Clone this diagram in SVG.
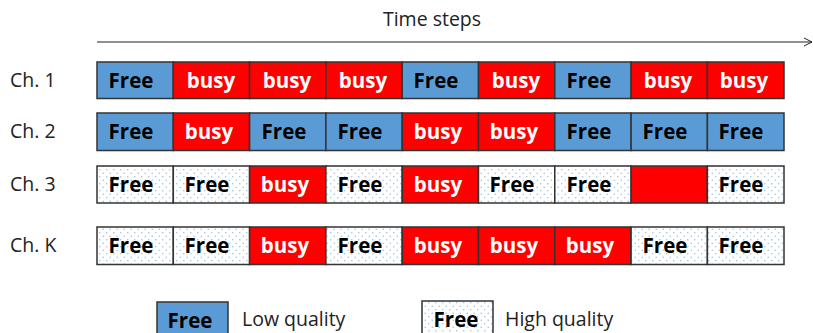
<svg xmlns="http://www.w3.org/2000/svg" width="813" height="333" viewBox="0 0 813 333">
  <style>
    .lbl { font-family: "Open Sans", "Liberation Sans", sans-serif; font-size: 19.5px; fill: #222; }
    .cell { stroke: #333; stroke-width: 1.5; }
    .lo { fill: #5B9BD5; }
    .hi { fill: url(#dots); }
    .busy { fill: #FF0000; }
    .t { font-family: "Open Sans", "Liberation Sans", sans-serif; font-size: 20.5px; font-weight: bold; text-anchor: middle; }
    .tf { fill: #000; }
    .tb { fill: #fff; }
  </style>
  <defs>
    <pattern id="dots" width="7" height="7" patternUnits="userSpaceOnUse">
      <rect width="7" height="7" fill="#fff"/>
      <circle cx="1.75" cy="1.75" r="0.8" fill="#9DC3E6"/>
      <circle cx="5.25" cy="5.25" r="0.8" fill="#9DC3E6"/>
    </pattern>
    <marker id="open" markerWidth="10" markerHeight="10" refX="9" refY="5" orient="auto" markerUnits="userSpaceOnUse">
      <path d="M1,1 L9,5 L1,9" fill="none" stroke="#222" stroke-width="1"/>
    </marker>
  </defs>

  <text class="lbl" x="432" y="26" text-anchor="middle">Time steps</text>

  <g id="connectors">
    <line x1="97" y1="42" x2="812" y2="42" stroke="#222" stroke-width="1.2" marker-end="url(#open)"/>
  </g>

  <!-- Channel 1 -->
  <g id="ch1">
    <text class="lbl" x="10" y="87">Ch. 1</text>
    <rect class="cell lo" x="97" y="62" width="76.3" height="36.5"/>
    <rect class="cell busy" x="173.3" y="62" width="76.3" height="36.5"/>
    <rect class="cell busy" x="249.6" y="62" width="76.3" height="36.5"/>
    <rect class="cell busy" x="325.9" y="62" width="76.3" height="36.5"/>
    <rect class="cell lo" x="402.2" y="62" width="76.3" height="36.5"/>
    <rect class="cell busy" x="478.5" y="62" width="76.3" height="36.5"/>
    <rect class="cell lo" x="554.8" y="62" width="76.3" height="36.5"/>
    <rect class="cell busy" x="631.1" y="62" width="76.3" height="36.5"/>
    <rect class="cell busy" x="707.4" y="62" width="76.6" height="36.5"/>
    <text class="t tf" x="131" y="87.5">Free</text>
    <text class="t tb" x="211" y="87.5">busy</text>
    <text class="t tb" x="287" y="87.5">busy</text>
    <text class="t tb" x="363" y="87.5">busy</text>
    <text class="t tf" x="436" y="87.5">Free</text>
    <text class="t tb" x="516" y="87.5">busy</text>
    <text class="t tf" x="589" y="87.5">Free</text>
    <text class="t tb" x="668" y="87.5">busy</text>
    <text class="t tb" x="744" y="87.5">busy</text>
  </g>

  <!-- Channel 2 -->
  <g id="ch2">
    <text class="lbl" x="10" y="138">Ch. 2</text>
    <rect class="cell lo" x="97" y="113" width="76.3" height="37.5"/>
    <rect class="cell busy" x="173.3" y="113" width="76.3" height="37.5"/>
    <rect class="cell lo" x="249.6" y="113" width="76.3" height="37.5"/>
    <rect class="cell lo" x="325.9" y="113" width="76.3" height="37.5"/>
    <rect class="cell busy" x="402.2" y="113" width="76.3" height="37.5"/>
    <rect class="cell busy" x="478.5" y="113" width="76.3" height="37.5"/>
    <rect class="cell lo" x="554.8" y="113" width="76.3" height="37.5"/>
    <rect class="cell lo" x="631.1" y="113" width="76.3" height="37.5"/>
    <rect class="cell lo" x="707.4" y="113" width="76.6" height="37.5"/>
    <text class="t tf" x="131" y="139">Free</text>
    <text class="t tb" x="209" y="139">busy</text>
    <text class="t tf" x="284" y="139">Free</text>
    <text class="t tf" x="360" y="139">Free</text>
    <text class="t tb" x="438" y="139">busy</text>
    <text class="t tb" x="514" y="139">busy</text>
    <text class="t tf" x="589" y="139">Free</text>
    <text class="t tf" x="665" y="139">Free</text>
    <text class="t tf" x="741" y="139">Free</text>
  </g>

  <!-- Channel 3 -->
  <g id="ch3">
    <text class="lbl" x="10" y="191">Ch. 3</text>
    <rect class="cell hi" x="97" y="166" width="76.3" height="37"/>
    <rect class="cell hi" x="173.3" y="166" width="76.3" height="37"/>
    <rect class="cell busy" x="249.6" y="166" width="76.3" height="37"/>
    <rect class="cell hi" x="325.9" y="166" width="76.3" height="37"/>
    <rect class="cell busy" x="402.2" y="166" width="76.3" height="37"/>
    <rect class="cell hi" x="478.5" y="166" width="76.3" height="37"/>
    <rect class="cell hi" x="554.8" y="166" width="76.3" height="37"/>
    <rect class="cell busy" x="631.1" y="166" width="76.3" height="37"/>
    <rect class="cell hi" x="707.4" y="166" width="76.6" height="37"/>
    <text class="t tf" x="131" y="192">Free</text>
    <text class="t tf" x="207" y="192">Free</text>
    <text class="t tb" x="285" y="192">busy</text>
    <text class="t tf" x="360" y="192">Free</text>
    <text class="t tb" x="438" y="192">busy</text>
    <text class="t tf" x="512" y="192">Free</text>
    <text class="t tf" x="589" y="192">Free</text>
    <text class="t tf" x="741" y="192">Free</text>
  </g>

  <!-- Channel K -->
  <g id="chK">
    <text class="lbl" x="10" y="252">Ch. K</text>
    <rect class="cell hi" x="97" y="227" width="76.3" height="37.5"/>
    <rect class="cell hi" x="173.3" y="227" width="76.3" height="37.5"/>
    <rect class="cell busy" x="249.6" y="227" width="76.3" height="37.5"/>
    <rect class="cell hi" x="325.9" y="227" width="76.3" height="37.5"/>
    <rect class="cell busy" x="402.2" y="227" width="76.3" height="37.5"/>
    <rect class="cell busy" x="478.5" y="227" width="76.3" height="37.5"/>
    <rect class="cell busy" x="554.8" y="227" width="76.3" height="37.5"/>
    <rect class="cell hi" x="631.1" y="227" width="76.3" height="37.5"/>
    <rect class="cell hi" x="707.4" y="227" width="76.6" height="37.5"/>
    <text class="t tf" x="131" y="253">Free</text>
    <text class="t tf" x="207" y="253">Free</text>
    <text class="t tb" x="285" y="253">busy</text>
    <text class="t tf" x="360" y="253">Free</text>
    <text class="t tb" x="438" y="253">busy</text>
    <text class="t tb" x="514" y="253">busy</text>
    <text class="t tb" x="590" y="253">busy</text>
    <text class="t tf" x="665" y="253">Free</text>
    <text class="t tf" x="741" y="253">Free</text>
  </g>

  <!-- Legend -->
  <g id="legend-low">
    <rect class="cell lo" x="157" y="302" width="71" height="36"/>
    <text class="t tf" x="190" y="328">Free</text>
    <text class="lbl" x="242" y="326">Low quality</text>
  </g>
  <g id="legend-high">
    <rect class="cell hi" x="422" y="301" width="71" height="37"/>
    <text class="t tf" x="456" y="327">Free</text>
    <text class="lbl" x="505" y="326">High quality</text>
  </g>
</svg>
